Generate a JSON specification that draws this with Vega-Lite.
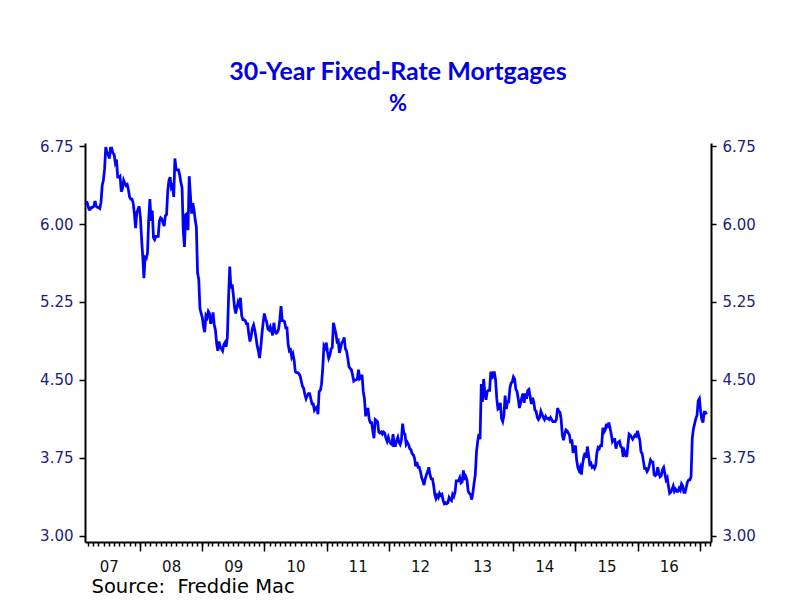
{
"$schema": "https://vega.github.io/schema/vega-lite/v6.json",
"width": 626, "height": 399,
"autosize": {"type": "none"},
"padding": {"left": 85, "top": 143, "right": 89, "bottom": 58},
"background": "white",
"title": {"text": "30-Year Fixed-Rate Mortgages", "subtitle": "%", "anchor": "middle", "font": "Lato", "fontSize": 25, "fontWeight": "bold", "color": "#0000E0", "subtitleFont": "Lato", "subtitleFontSize": 22, "subtitleFontWeight": "bold", "subtitleColor": "#0000E0", "subtitlePadding": 9, "offset": 24},
"config": {"view": {"stroke": null}, "axis": {"grid": false, "domainColor": "black", "domainWidth": 2, "tickColor": "black", "tickWidth": 1.5, "labelFont": "DejaVu Sans", "labelFontSize": 15}},
"data": {"values": [
{"d":"2007-02-22","v":6.22},{"d":"2007-03-01","v":6.18},{"d":"2007-03-08","v":6.14},{"d":"2007-03-15","v":6.14},{"d":"2007-03-22","v":6.16},{"d":"2007-03-29","v":6.16},{"d":"2007-04-05","v":6.17},{"d":"2007-04-12","v":6.22},{"d":"2007-04-19","v":6.17},{"d":"2007-04-26","v":6.16},{"d":"2007-05-03","v":6.16},{"d":"2007-05-10","v":6.15},{"d":"2007-05-17","v":6.21},{"d":"2007-05-24","v":6.37},{"d":"2007-05-31","v":6.42},{"d":"2007-06-07","v":6.53},{"d":"2007-06-14","v":6.74},{"d":"2007-06-21","v":6.69},{"d":"2007-06-28","v":6.67},{"d":"2007-07-05","v":6.63},{"d":"2007-07-12","v":6.73},{"d":"2007-07-19","v":6.73},{"d":"2007-07-26","v":6.68},{"d":"2007-08-02","v":6.67},{"d":"2007-08-09","v":6.59},{"d":"2007-08-16","v":6.62},{"d":"2007-08-23","v":6.45},{"d":"2007-08-30","v":6.45},{"d":"2007-09-06","v":6.46},{"d":"2007-09-13","v":6.31},{"d":"2007-09-20","v":6.34},{"d":"2007-09-27","v":6.42},{"d":"2007-10-04","v":6.39},{"d":"2007-10-11","v":6.37},{"d":"2007-10-18","v":6.38},{"d":"2007-10-25","v":6.33},{"d":"2007-11-01","v":6.26},{"d":"2007-11-08","v":6.24},{"d":"2007-11-15","v":6.24},{"d":"2007-11-22","v":6.20},{"d":"2007-11-29","v":6.10},{"d":"2007-12-06","v":5.96},{"d":"2007-12-13","v":6.11},{"d":"2007-12-20","v":6.14},{"d":"2007-12-27","v":6.17},
{"d":"2008-01-03","v":6.07},{"d":"2008-01-10","v":5.87},{"d":"2008-01-17","v":5.69},{"d":"2008-01-24","v":5.48},{"d":"2008-01-31","v":5.68},{"d":"2008-02-07","v":5.67},{"d":"2008-02-14","v":5.72},{"d":"2008-02-21","v":6.04},{"d":"2008-02-28","v":6.24},{"d":"2008-03-06","v":6.03},{"d":"2008-03-13","v":6.13},{"d":"2008-03-20","v":5.87},{"d":"2008-03-27","v":5.85},{"d":"2008-04-03","v":5.88},{"d":"2008-04-10","v":5.88},{"d":"2008-04-17","v":5.88},{"d":"2008-04-24","v":6.03},{"d":"2008-05-01","v":6.06},{"d":"2008-05-08","v":6.05},{"d":"2008-05-15","v":6.01},{"d":"2008-05-22","v":5.98},{"d":"2008-05-29","v":6.08},{"d":"2008-06-05","v":6.09},{"d":"2008-06-12","v":6.32},{"d":"2008-06-19","v":6.42},{"d":"2008-06-26","v":6.45},{"d":"2008-07-03","v":6.35},{"d":"2008-07-10","v":6.37},{"d":"2008-07-17","v":6.26},{"d":"2008-07-24","v":6.63},{"d":"2008-07-31","v":6.52},{"d":"2008-08-07","v":6.52},{"d":"2008-08-14","v":6.52},{"d":"2008-08-21","v":6.47},{"d":"2008-08-28","v":6.40},{"d":"2008-09-04","v":6.35},{"d":"2008-09-11","v":5.93},{"d":"2008-09-18","v":5.78},{"d":"2008-09-25","v":6.09},{"d":"2008-10-02","v":6.10},{"d":"2008-10-09","v":5.94},{"d":"2008-10-16","v":6.46},{"d":"2008-10-23","v":6.28},{"d":"2008-10-30","v":6.10},{"d":"2008-11-06","v":6.20},{"d":"2008-11-13","v":6.14},{"d":"2008-11-20","v":6.04},{"d":"2008-11-27","v":5.97},{"d":"2008-12-04","v":5.53},{"d":"2008-12-11","v":5.47},{"d":"2008-12-18","v":5.19},{"d":"2008-12-25","v":5.14},
{"d":"2009-01-01","v":5.10},{"d":"2009-01-08","v":5.01},{"d":"2009-01-15","v":4.96},{"d":"2009-01-22","v":5.12},{"d":"2009-01-29","v":5.10},{"d":"2009-02-05","v":5.16},{"d":"2009-02-12","v":5.14},{"d":"2009-02-19","v":5.04},{"d":"2009-02-26","v":5.07},{"d":"2009-03-05","v":5.15},{"d":"2009-03-12","v":5.03},{"d":"2009-03-19","v":4.98},{"d":"2009-03-26","v":4.85},{"d":"2009-04-02","v":4.78},{"d":"2009-04-09","v":4.87},{"d":"2009-04-16","v":4.82},{"d":"2009-04-23","v":4.80},{"d":"2009-04-30","v":4.78},{"d":"2009-05-07","v":4.84},{"d":"2009-05-14","v":4.86},{"d":"2009-05-21","v":4.82},{"d":"2009-05-28","v":4.91},{"d":"2009-06-04","v":5.29},{"d":"2009-06-11","v":5.59},{"d":"2009-06-18","v":5.38},{"d":"2009-06-25","v":5.42},{"d":"2009-07-02","v":5.32},{"d":"2009-07-09","v":5.20},{"d":"2009-07-16","v":5.14},{"d":"2009-07-23","v":5.20},{"d":"2009-07-30","v":5.25},{"d":"2009-08-06","v":5.22},{"d":"2009-08-13","v":5.29},{"d":"2009-08-20","v":5.12},{"d":"2009-08-27","v":5.08},{"d":"2009-09-03","v":5.08},{"d":"2009-09-10","v":5.07},{"d":"2009-09-17","v":5.04},{"d":"2009-09-24","v":5.04},{"d":"2009-10-01","v":4.94},{"d":"2009-10-08","v":4.87},{"d":"2009-10-15","v":4.92},{"d":"2009-10-22","v":5.00},{"d":"2009-10-29","v":5.03},{"d":"2009-11-05","v":4.98},{"d":"2009-11-12","v":4.91},{"d":"2009-11-19","v":4.83},{"d":"2009-11-26","v":4.78},{"d":"2009-12-03","v":4.71},{"d":"2009-12-10","v":4.81},{"d":"2009-12-17","v":4.94},{"d":"2009-12-24","v":5.05},{"d":"2009-12-31","v":5.14},
{"d":"2010-01-07","v":5.09},{"d":"2010-01-14","v":5.06},{"d":"2010-01-21","v":4.99},{"d":"2010-01-28","v":4.98},{"d":"2010-02-04","v":5.01},{"d":"2010-02-11","v":4.97},{"d":"2010-02-18","v":4.93},{"d":"2010-02-25","v":5.05},{"d":"2010-03-04","v":4.97},{"d":"2010-03-11","v":4.95},{"d":"2010-03-18","v":4.96},{"d":"2010-03-25","v":4.99},{"d":"2010-04-01","v":5.08},{"d":"2010-04-08","v":5.21},{"d":"2010-04-15","v":5.07},{"d":"2010-04-22","v":5.07},{"d":"2010-04-29","v":5.06},{"d":"2010-05-06","v":5.00},{"d":"2010-05-13","v":5.00},{"d":"2010-05-20","v":4.84},{"d":"2010-05-27","v":4.78},{"d":"2010-06-03","v":4.79},{"d":"2010-06-10","v":4.72},{"d":"2010-06-17","v":4.75},{"d":"2010-06-24","v":4.69},{"d":"2010-07-01","v":4.58},{"d":"2010-07-08","v":4.57},{"d":"2010-07-15","v":4.57},{"d":"2010-07-22","v":4.56},{"d":"2010-07-29","v":4.54},{"d":"2010-08-05","v":4.49},{"d":"2010-08-12","v":4.44},{"d":"2010-08-19","v":4.42},{"d":"2010-08-26","v":4.36},{"d":"2010-09-02","v":4.32},{"d":"2010-09-09","v":4.35},{"d":"2010-09-16","v":4.37},{"d":"2010-09-23","v":4.37},{"d":"2010-09-30","v":4.32},{"d":"2010-10-07","v":4.27},{"d":"2010-10-14","v":4.27},{"d":"2010-10-21","v":4.21},{"d":"2010-10-28","v":4.23},{"d":"2010-11-04","v":4.24},{"d":"2010-11-11","v":4.17},{"d":"2010-11-18","v":4.39},{"d":"2010-11-25","v":4.40},{"d":"2010-12-02","v":4.46},{"d":"2010-12-09","v":4.61},{"d":"2010-12-16","v":4.83},{"d":"2010-12-23","v":4.81},{"d":"2010-12-30","v":4.86},
{"d":"2011-01-06","v":4.77},{"d":"2011-01-13","v":4.71},{"d":"2011-01-20","v":4.74},{"d":"2011-01-27","v":4.80},{"d":"2011-02-03","v":4.81},{"d":"2011-02-10","v":5.05},{"d":"2011-02-17","v":5.00},{"d":"2011-02-24","v":4.95},{"d":"2011-03-03","v":4.87},{"d":"2011-03-10","v":4.88},{"d":"2011-03-17","v":4.76},{"d":"2011-03-24","v":4.81},{"d":"2011-03-31","v":4.86},{"d":"2011-04-07","v":4.87},{"d":"2011-04-14","v":4.91},{"d":"2011-04-21","v":4.80},{"d":"2011-04-28","v":4.78},{"d":"2011-05-05","v":4.71},{"d":"2011-05-12","v":4.63},{"d":"2011-05-19","v":4.61},{"d":"2011-05-26","v":4.60},{"d":"2011-06-02","v":4.55},{"d":"2011-06-09","v":4.49},{"d":"2011-06-16","v":4.50},{"d":"2011-06-23","v":4.50},{"d":"2011-06-30","v":4.51},{"d":"2011-07-07","v":4.60},{"d":"2011-07-14","v":4.51},{"d":"2011-07-21","v":4.52},{"d":"2011-07-28","v":4.55},{"d":"2011-08-04","v":4.39},{"d":"2011-08-11","v":4.32},{"d":"2011-08-18","v":4.15},{"d":"2011-08-25","v":4.22},{"d":"2011-09-01","v":4.22},{"d":"2011-09-08","v":4.12},{"d":"2011-09-15","v":4.09},{"d":"2011-09-22","v":4.09},{"d":"2011-09-29","v":4.01},{"d":"2011-10-06","v":3.94},{"d":"2011-10-13","v":4.12},{"d":"2011-10-20","v":4.11},{"d":"2011-10-27","v":4.10},{"d":"2011-11-03","v":4.00},{"d":"2011-11-10","v":3.99},{"d":"2011-11-17","v":4.00},{"d":"2011-11-24","v":3.98},{"d":"2011-12-01","v":4.00},{"d":"2011-12-08","v":3.99},{"d":"2011-12-15","v":3.94},{"d":"2011-12-22","v":3.91},{"d":"2011-12-29","v":3.95},
{"d":"2012-01-05","v":3.91},{"d":"2012-01-12","v":3.89},{"d":"2012-01-19","v":3.88},{"d":"2012-01-26","v":3.98},{"d":"2012-02-02","v":3.87},{"d":"2012-02-09","v":3.87},{"d":"2012-02-16","v":3.92},{"d":"2012-02-23","v":3.95},{"d":"2012-03-01","v":3.90},{"d":"2012-03-08","v":3.88},{"d":"2012-03-15","v":3.92},{"d":"2012-03-22","v":4.08},{"d":"2012-03-29","v":3.99},{"d":"2012-04-05","v":3.98},{"d":"2012-04-12","v":3.88},{"d":"2012-04-19","v":3.90},{"d":"2012-04-26","v":3.88},{"d":"2012-05-03","v":3.84},{"d":"2012-05-10","v":3.83},{"d":"2012-05-17","v":3.79},{"d":"2012-05-24","v":3.78},{"d":"2012-05-31","v":3.75},{"d":"2012-06-07","v":3.67},{"d":"2012-06-14","v":3.71},{"d":"2012-06-21","v":3.66},{"d":"2012-06-28","v":3.66},{"d":"2012-07-05","v":3.62},{"d":"2012-07-12","v":3.56},{"d":"2012-07-19","v":3.53},{"d":"2012-07-26","v":3.49},{"d":"2012-08-02","v":3.55},{"d":"2012-08-09","v":3.59},{"d":"2012-08-16","v":3.62},{"d":"2012-08-23","v":3.66},{"d":"2012-08-30","v":3.59},{"d":"2012-09-06","v":3.55},{"d":"2012-09-13","v":3.55},{"d":"2012-09-20","v":3.49},{"d":"2012-09-27","v":3.40},{"d":"2012-10-04","v":3.36},{"d":"2012-10-11","v":3.39},{"d":"2012-10-18","v":3.37},{"d":"2012-10-25","v":3.41},{"d":"2012-11-01","v":3.39},{"d":"2012-11-08","v":3.40},{"d":"2012-11-15","v":3.34},{"d":"2012-11-22","v":3.31},{"d":"2012-11-29","v":3.32},{"d":"2012-12-06","v":3.31},{"d":"2012-12-13","v":3.32},{"d":"2012-12-20","v":3.37},{"d":"2012-12-27","v":3.35},
{"d":"2013-01-03","v":3.34},{"d":"2013-01-10","v":3.40},{"d":"2013-01-17","v":3.38},{"d":"2013-01-24","v":3.42},{"d":"2013-01-31","v":3.53},{"d":"2013-02-07","v":3.53},{"d":"2013-02-14","v":3.53},{"d":"2013-02-21","v":3.56},{"d":"2013-02-28","v":3.51},{"d":"2013-03-07","v":3.52},{"d":"2013-03-14","v":3.63},{"d":"2013-03-21","v":3.54},{"d":"2013-03-28","v":3.57},{"d":"2013-04-04","v":3.54},{"d":"2013-04-11","v":3.43},{"d":"2013-04-18","v":3.41},{"d":"2013-04-25","v":3.40},{"d":"2013-05-02","v":3.35},{"d":"2013-05-09","v":3.42},{"d":"2013-05-16","v":3.51},{"d":"2013-05-23","v":3.59},{"d":"2013-05-30","v":3.81},{"d":"2013-06-06","v":3.91},{"d":"2013-06-13","v":3.98},{"d":"2013-06-20","v":3.93},{"d":"2013-06-27","v":4.46},{"d":"2013-07-04","v":4.29},{"d":"2013-07-11","v":4.51},{"d":"2013-07-18","v":4.37},{"d":"2013-07-25","v":4.31},{"d":"2013-08-01","v":4.39},{"d":"2013-08-08","v":4.40},{"d":"2013-08-15","v":4.40},{"d":"2013-08-22","v":4.58},{"d":"2013-08-29","v":4.51},{"d":"2013-09-05","v":4.57},{"d":"2013-09-12","v":4.57},{"d":"2013-09-19","v":4.50},{"d":"2013-09-26","v":4.32},{"d":"2013-10-03","v":4.22},{"d":"2013-10-10","v":4.23},{"d":"2013-10-17","v":4.28},{"d":"2013-10-24","v":4.13},{"d":"2013-10-31","v":4.10},{"d":"2013-11-07","v":4.16},{"d":"2013-11-14","v":4.35},{"d":"2013-11-21","v":4.22},{"d":"2013-11-28","v":4.29},{"d":"2013-12-05","v":4.29},{"d":"2013-12-12","v":4.42},{"d":"2013-12-19","v":4.47},{"d":"2013-12-26","v":4.48},
{"d":"2014-01-02","v":4.53},{"d":"2014-01-09","v":4.51},{"d":"2014-01-16","v":4.41},{"d":"2014-01-23","v":4.39},{"d":"2014-01-30","v":4.32},{"d":"2014-02-06","v":4.23},{"d":"2014-02-13","v":4.28},{"d":"2014-02-20","v":4.33},{"d":"2014-02-27","v":4.37},{"d":"2014-03-06","v":4.28},{"d":"2014-03-13","v":4.37},{"d":"2014-03-20","v":4.32},{"d":"2014-03-27","v":4.40},{"d":"2014-04-03","v":4.41},{"d":"2014-04-10","v":4.34},{"d":"2014-04-17","v":4.27},{"d":"2014-04-24","v":4.33},{"d":"2014-05-01","v":4.29},{"d":"2014-05-08","v":4.21},{"d":"2014-05-15","v":4.20},{"d":"2014-05-22","v":4.14},{"d":"2014-05-29","v":4.12},{"d":"2014-06-05","v":4.14},{"d":"2014-06-12","v":4.20},{"d":"2014-06-19","v":4.17},{"d":"2014-06-26","v":4.14},{"d":"2014-07-03","v":4.12},{"d":"2014-07-10","v":4.15},{"d":"2014-07-17","v":4.13},{"d":"2014-07-24","v":4.13},{"d":"2014-07-31","v":4.12},{"d":"2014-08-07","v":4.14},{"d":"2014-08-14","v":4.12},{"d":"2014-08-21","v":4.10},{"d":"2014-08-28","v":4.10},{"d":"2014-09-04","v":4.10},{"d":"2014-09-11","v":4.12},{"d":"2014-09-18","v":4.23},{"d":"2014-09-25","v":4.20},{"d":"2014-10-02","v":4.19},{"d":"2014-10-09","v":4.12},{"d":"2014-10-16","v":3.97},{"d":"2014-10-23","v":3.92},{"d":"2014-10-30","v":3.98},{"d":"2014-11-06","v":4.02},{"d":"2014-11-13","v":4.01},{"d":"2014-11-20","v":3.99},{"d":"2014-11-27","v":3.97},{"d":"2014-12-04","v":3.89},{"d":"2014-12-11","v":3.93},{"d":"2014-12-18","v":3.80},{"d":"2014-12-25","v":3.83},
{"d":"2015-01-01","v":3.87},{"d":"2015-01-08","v":3.73},{"d":"2015-01-15","v":3.66},{"d":"2015-01-22","v":3.63},{"d":"2015-01-29","v":3.66},{"d":"2015-02-05","v":3.59},{"d":"2015-02-12","v":3.69},{"d":"2015-02-19","v":3.76},{"d":"2015-02-26","v":3.80},{"d":"2015-03-05","v":3.75},{"d":"2015-03-12","v":3.86},{"d":"2015-03-19","v":3.78},{"d":"2015-03-26","v":3.69},{"d":"2015-04-02","v":3.70},{"d":"2015-04-09","v":3.66},{"d":"2015-04-16","v":3.67},{"d":"2015-04-23","v":3.65},{"d":"2015-04-30","v":3.68},{"d":"2015-05-07","v":3.80},{"d":"2015-05-14","v":3.85},{"d":"2015-05-21","v":3.84},{"d":"2015-05-28","v":3.87},{"d":"2015-06-04","v":3.87},{"d":"2015-06-11","v":4.04},{"d":"2015-06-18","v":4.00},{"d":"2015-06-25","v":4.02},{"d":"2015-07-02","v":4.08},{"d":"2015-07-09","v":4.04},{"d":"2015-07-16","v":4.09},{"d":"2015-07-23","v":4.04},{"d":"2015-07-30","v":3.98},{"d":"2015-08-06","v":3.91},{"d":"2015-08-13","v":3.93},{"d":"2015-08-20","v":3.93},{"d":"2015-08-27","v":3.84},{"d":"2015-09-03","v":3.89},{"d":"2015-09-10","v":3.90},{"d":"2015-09-17","v":3.91},{"d":"2015-09-24","v":3.86},{"d":"2015-10-01","v":3.85},{"d":"2015-10-08","v":3.76},{"d":"2015-10-15","v":3.82},{"d":"2015-10-22","v":3.79},{"d":"2015-10-29","v":3.76},{"d":"2015-11-05","v":3.87},{"d":"2015-11-12","v":3.98},{"d":"2015-11-19","v":3.97},{"d":"2015-11-26","v":3.95},{"d":"2015-12-03","v":3.93},{"d":"2015-12-10","v":3.95},{"d":"2015-12-17","v":3.97},{"d":"2015-12-24","v":3.96},{"d":"2015-12-31","v":4.01},
{"d":"2016-01-07","v":3.97},{"d":"2016-01-14","v":3.92},{"d":"2016-01-21","v":3.81},{"d":"2016-01-28","v":3.79},{"d":"2016-02-04","v":3.72},{"d":"2016-02-11","v":3.65},{"d":"2016-02-18","v":3.65},{"d":"2016-02-25","v":3.62},{"d":"2016-03-03","v":3.64},{"d":"2016-03-10","v":3.68},{"d":"2016-03-17","v":3.73},{"d":"2016-03-24","v":3.71},{"d":"2016-03-31","v":3.71},{"d":"2016-04-07","v":3.59},{"d":"2016-04-14","v":3.58},{"d":"2016-04-21","v":3.59},{"d":"2016-04-28","v":3.66},{"d":"2016-05-05","v":3.61},{"d":"2016-05-12","v":3.57},{"d":"2016-05-19","v":3.58},{"d":"2016-05-26","v":3.64},{"d":"2016-06-02","v":3.66},{"d":"2016-06-09","v":3.60},{"d":"2016-06-16","v":3.54},{"d":"2016-06-23","v":3.56},{"d":"2016-06-30","v":3.48},{"d":"2016-07-07","v":3.41},{"d":"2016-07-14","v":3.42},{"d":"2016-07-21","v":3.45},{"d":"2016-07-28","v":3.48},{"d":"2016-08-04","v":3.43},{"d":"2016-08-11","v":3.45},{"d":"2016-08-18","v":3.43},{"d":"2016-08-25","v":3.43},{"d":"2016-09-01","v":3.46},{"d":"2016-09-08","v":3.44},{"d":"2016-09-15","v":3.50},{"d":"2016-09-22","v":3.48},{"d":"2016-09-29","v":3.42},{"d":"2016-10-06","v":3.42},{"d":"2016-10-13","v":3.47},{"d":"2016-10-20","v":3.52},{"d":"2016-10-27","v":3.54},{"d":"2016-11-03","v":3.54},{"d":"2016-11-10","v":3.57},{"d":"2016-11-17","v":3.94},{"d":"2016-11-24","v":4.03},{"d":"2016-12-01","v":4.08},{"d":"2016-12-08","v":4.13},{"d":"2016-12-15","v":4.16},{"d":"2016-12-22","v":4.30},{"d":"2016-12-29","v":4.32},
{"d":"2017-01-05","v":4.20},{"d":"2017-01-12","v":4.12},{"d":"2017-01-19","v":4.09},{"d":"2017-01-26","v":4.19},{"d":"2017-02-02","v":4.19},{"d":"2017-02-09","v":4.17}
]},
"layer": [
{"mark": {"type": "line", "color": "#0000FF", "strokeWidth": 2.75},
 "encoding": {
  "x": {"field": "d", "type": "temporal", "scale": {"domain": [{"year": 2007, "month": 2, "date": 12}, {"year": 2017, "month": 3, "date": 7}]}, "axis": {"orient": "bottom", "tickCount": {"interval": "month", "step": 1}, "labels": false, "tickSize": 4, "title": null}},
  "y": {"field": "v", "type": "quantitative", "scale": {"domain": [2.942, 6.779], "zero": false, "nice": false}, "axis": {"orient": "left", "values": [3, 3.75, 4.5, 5.25, 6, 6.75], "format": ".2f", "tickSize": 6, "labelPadding": 6, "labelColor": "#1C1C80", "title": null}}
 }},
{"mark": {"type": "line", "strokeOpacity": 0},
 "encoding": {
  "x": {"field": "d", "type": "temporal", "scale": {"domain": [{"year": 2007, "month": 2, "date": 12}, {"year": 2017, "month": 3, "date": 7}]}, "axis": {"orient": "bottom", "tickCount": {"interval": "year", "step": 1}, "labels": false, "tickSize": 9, "domain": false, "title": null}},
  "y": {"field": "v", "type": "quantitative", "scale": {"domain": [2.942, 6.779], "zero": false, "nice": false}, "axis": {"orient": "right", "values": [3, 3.75, 4.5, 5.25, 6, 6.75], "format": ".2f", "tickSize": 5, "labelPadding": 6, "labelColor": "#1C1C80", "title": null}}
 }},
{"mark": {"type": "line", "strokeOpacity": 0},
 "encoding": {
  "x": {"field": "d", "type": "temporal", "scale": {"domain": [{"year": 2007, "month": 2, "date": 12}, {"year": 2017, "month": 3, "date": 7}]}, "axis": {"orient": "bottom", "values": [{"year": 2007, "month": 7, "date": 2}, {"year": 2008, "month": 7, "date": 2}, {"year": 2009, "month": 7, "date": 2}, {"year": 2010, "month": 7, "date": 2}, {"year": 2011, "month": 7, "date": 2}, {"year": 2012, "month": 7, "date": 2}, {"year": 2013, "month": 7, "date": 2}, {"year": 2014, "month": 7, "date": 2}, {"year": 2015, "month": 7, "date": 2}, {"year": 2016, "month": 7, "date": 2}], "format": "%y", "tickSize": 0, "domain": false, "labelPadding": 17, "labelColor": "#111111", "title": "Source:\u00a0 Freddie Mac", "titleFont": "DejaVu Sans", "titleFontSize": 19.5, "titleFontWeight": "normal", "titleColor": "#000000", "titleAnchor": "start", "titleAlign": "left", "titleX": 6, "titleY": 50, "titleBaseline": "alphabetic"}},
  "y": {"field": "v", "type": "quantitative", "scale": {"domain": [2.942, 6.779], "zero": false, "nice": false}, "axis": null}
 }}
],
"resolve": {"axis": {"x": "independent", "y": "independent"}}
}
